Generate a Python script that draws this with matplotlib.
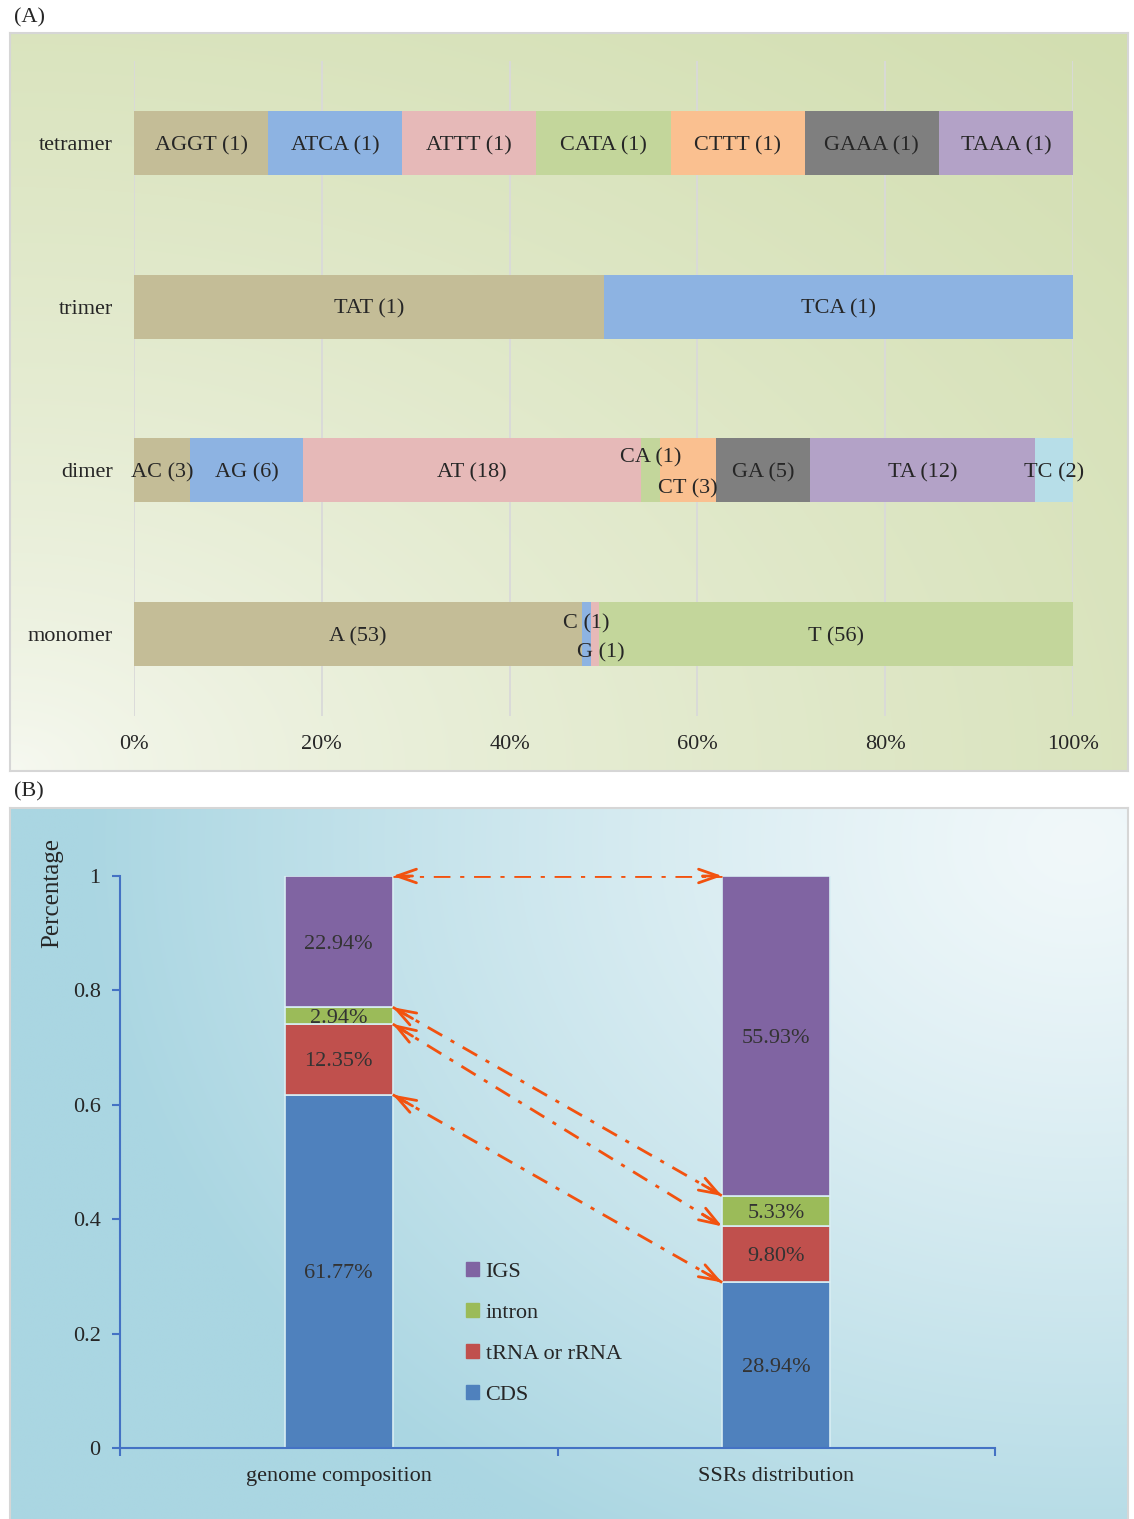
import matplotlib.pyplot as plt
import numpy as np
from matplotlib.patches import Patch

plt.rcParams['font.family'] = ['Liberation Serif', 'DejaVu Serif']

# SSR motif counts per repeat type
categories = ['monomer', 'dimer', 'trimer', 'tetramer']
monomer_motifs = ['A', 'C', 'G', 'T']
monomer_counts = [53, 1, 1, 56]
dimer_motifs = ['AC', 'AG', 'AT', 'CA', 'CT', 'GA', 'TA', 'TC']
dimer_counts = [3, 6, 18, 1, 3, 5, 12, 2]
trimer_motifs = ['TAT', 'TCA']
trimer_counts = [1, 1]
tetramer_motifs = ['AGGT', 'ATCA', 'ATTT', 'CATA', 'CTTT', 'GAAA', 'TAAA']
tetramer_counts = [1, 1, 1, 1, 1, 1, 1]

# genome composition vs SSR location (%)
groups = ['genome composition', 'SSRs distribution']
regions = ['CDS', 'tRNA or rRNA', 'intron', 'IGS']
genome_pct = [61.77, 12.35, 2.94, 22.94]
ssr_pct = [28.94, 9.80, 5.33, 55.93]

motif_colors = ['#C4BD97', '#8DB3E2', '#E6B9B8', '#C3D69B',
                '#FAC090', '#7F7F7F', '#B3A2C7', '#B7DEE8']
region_colors = ['#4F81BD', '#C0504D', '#9BBB59', '#8064A2']
arrow_c = '#F2520F'
txt_c = '#262626'

W, H = 1134, 1519
fig = plt.figure(figsize=(W / 100, H / 100), dpi=100)


def box(x0, y0, x1, y1):
    return [x0 / W, 1 - y1 / H, (x1 - x0) / W, (y1 - y0) / H]


def background(rect, img, edge):
    bg = fig.add_axes(rect, zorder=0)
    bg.imshow(img, extent=[0, 1, 0, 1], aspect='auto', origin='lower',
              interpolation='bilinear')
    bg.set_xticks([])
    bg.set_yticks([])
    for s in bg.spines.values():
        s.set_color(edge)
        s.set_linewidth(1.5)
    return bg


def blend(c0, c1, f):
    c0 = np.array([int(c0[i:i + 2], 16) for i in (1, 3, 5)]) / 255
    c1 = np.array([int(c1[i:i + 2], 16) for i in (1, 3, 5)]) / 255
    f = np.clip(f, 0, 1)[..., None]
    return c0 + (c1 - c0) * f


# ---- (A) stacked percentage bars of motifs ----
u, v = np.meshgrid(np.linspace(0, 1, 300), np.linspace(0, 1, 200))
r = np.sqrt(u ** 2 + v ** 2) / np.sqrt(2)
background(box(10, 33, 1128, 771), blend('#F7F9F2', '#D2DEB0', r ** 0.7), '#D6D6D6')

axA = fig.add_axes(box(134, 61, 1073, 716), zorder=1)
axA.patch.set_visible(False)

motifs = [monomer_motifs, dimer_motifs, trimer_motifs, tetramer_motifs]
counts = [monomer_counts, dimer_counts, trimer_counts, tetramer_counts]
# small segments get their labels nudged (dx in %, dy in rows)
nudge = {('dimer', 'CA'): (0, 0.09), ('dimer', 'CT'): (0, -0.10),
         ('monomer', 'C'): (0, 0.08), ('monomer', 'G'): (0.6, -0.10)}

for i, (cat, ms, cs) in enumerate(zip(categories, motifs, counts)):
    pct = np.array(cs) / sum(cs) * 100
    left = np.concatenate([[0], np.cumsum(pct)[:-1]])
    axA.barh(i, pct, left=left, height=0.39, color=motif_colors[:len(cs)], zorder=2)
    for m, c, p, l in zip(ms, cs, pct, left):
        dx, dy = nudge.get((cat, m), (0, 0))
        axA.text(l + p / 2 + dx, i + dy, f'{m} ({c})', ha='center',
                 va='center_baseline', fontsize=16, color=txt_c, zorder=3)

axA.set_xlim(0, 100)
axA.set_ylim(-0.5, 3.5)
axA.set_yticks(range(len(categories)))
axA.set_yticklabels(categories, fontsize=16, color=txt_c)
axA.set_xticks(np.arange(0, 101, 20))
axA.set_xticklabels([f'{t}%' for t in range(0, 101, 20)], fontsize=16, color=txt_c)
axA.tick_params(axis='both', length=0)
axA.tick_params(axis='x', pad=14)
axA.tick_params(axis='y', pad=15)
axA.grid(axis='x', color='#D9D9D9', lw=1.3)
axA.set_axisbelow(True)
for s in axA.spines.values():
    s.set_visible(False)

# ---- (B) genome composition vs SSR distribution ----
px, py = np.meshgrid(np.linspace(10, 1128, 300), np.linspace(1519, 808, 200))
d = np.sqrt((px - 1080) ** 2 + ((py - 840) * 1.25) ** 2) / 1000
background(box(10, 808, 1128, 1530), blend('#F1F8FA', '#AAD6E2', d ** 1.2), '#D6D6D6')

axB = fig.add_axes(box(120, 876, 995, 1448), zorder=1)
axB.patch.set_visible(False)

bw = 0.247
tops = []
for gi, vals in enumerate([genome_pct, ssr_pct]):
    frac = np.array(vals) / 100
    bottom = np.concatenate([[0], np.cumsum(frac)[:-1]])
    axB.bar(gi, frac, bottom=bottom, width=bw, color=region_colors,
            edgecolor='#D8EEF3', linewidth=1.2, zorder=2)
    for f, b, val in zip(frac, bottom, vals):
        axB.text(gi, b + f / 2, f'{val:.2f}%', ha='center', va='center_baseline',
                 fontsize=16, color='#333333', zorder=3)
    tops.append(bottom + frac)


def link(x0, y0, x1, y1):
    axB.plot([x0, x1], [y0, y1], color=arrow_c, lw=2,
             linestyle=(0, (6, 3.5, 1.5, 3.5)), zorder=4)
    t = 0.06
    for (xe, ye, xs, ys) in [(x0, y0, x1, y1), (x1, y1, x0, y0)]:
        axB.annotate('', xy=(xe, ye), xytext=(xe + (xs - xe) * t, ye + (ys - ye) * t),
                     arrowprops=dict(arrowstyle='->,head_length=1.0,head_width=0.35',
                                     color=arrow_c, lw=2, shrinkA=0, shrinkB=0,
                                     mutation_scale=14),
                     zorder=5)


for k in [3, 2, 1, 0]:
    link(bw / 2, tops[0][k], 1 - bw / 2, tops[1][k])

axB.set_xlim(-0.5, 1.5)
axB.set_ylim(0, 1)
axB.set_yticks(np.arange(0, 1.01, 0.2))
axB.set_yticklabels(['0', '0.2', '0.4', '0.6', '0.8', '1'], fontsize=16, color=txt_c)
axB.set_xticks([-0.5, 0.5, 1.5])
axB.set_xticklabels([])
axB.set_xticks([0, 1], minor=True)
axB.set_xticklabels(groups, minor=True, fontsize=16, color=txt_c)
axB.tick_params(axis='x', which='minor', length=0, pad=14)
axB.tick_params(axis='both', which='major', length=6, width=1.5, color='#4472C4')
axB.tick_params(axis='y', pad=8)
for s in ['top', 'right']:
    axB.spines[s].set_visible(False)
for s in ['left', 'bottom']:
    axB.spines[s].set_color('#4472C4')
    axB.spines[s].set_linewidth(1.5)

handles = [Patch(color=c, label=l) for c, l in zip(region_colors, regions)][::-1]
axB.legend(handles=handles, loc='upper left', bbox_to_anchor=(0.395, 0.325),
           frameon=False, fontsize=16, labelspacing=0.95, handlelength=0.6,
           handleheight=0.6, handletextpad=0.3, borderpad=0, borderaxespad=0,
           labelcolor=txt_c)

fig.text(52 / W, 1 - 893 / H, 'Percentage', rotation=90, ha='center', va='center',
         fontsize=18, color=txt_c)
fig.text(14 / W, 1 - 18 / H, '(A)', ha='left', va='center', fontsize=16, color=txt_c)
fig.text(14 / W, 1 - 792 / H, '(B)', ha='left', va='center', fontsize=16, color=txt_c)

fig.savefig('out.png', dpi=100)
